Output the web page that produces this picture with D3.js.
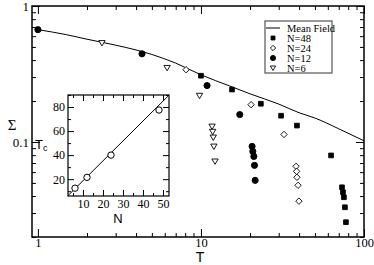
<!DOCTYPE html>
<html>
<head>
<meta charset="utf-8">
<script src="https://cdn.jsdelivr.net/npm/d3@7"></script>
<style>
  body { margin: 0; background: #fff; }
  svg { display: block; }
  .axis path { display: none; }
  .axis line { stroke: #000; stroke-width: 1; }
</style>
</head>
<body>
<svg id="chart" width="374" height="265"></svg>
<script>
// mean field curve
const meanT = [1, 1.5, 2, 3, 4, 5, 7, 10, 15, 20, 30, 40, 50, 70, 100];
const meanS = [0.67, 0.615, 0.57, 0.515, 0.475, 0.44, 0.38, 0.312, 0.258, 0.226, 0.19, 0.164, 0.15, 0.125, 0.102];

// simulation points
const n48T = [10, 15.5, 23.3, 31, 38.8, 62.8, 73.3, 74.3, 75.3, 76.4, 77.5];
const n48S = [0.307, 0.243, 0.191, 0.156, 0.132, 0.0796, 0.0464, 0.0427, 0.0392, 0.0331, 0.0257];
const n24T = [8.1, 20.3, 32.3, 38.3, 38.6, 38.8, 39.4, 39.9];
const n24S = [0.34, 0.188, 0.1135, 0.0662, 0.0608, 0.055, 0.048, 0.0367];
const n12T = [1, 4.35, 10.9, 17.3, 20.6, 20.8, 21.1, 21.3, 21.5];
const n12S = [0.67, 0.445, 0.26, 0.159, 0.0927, 0.0852, 0.0783, 0.0673, 0.0522];
const n6T = [2.47, 6.2, 9.8, 11.7, 11.8, 11.9, 12.0, 12.2];
const n6S = [0.535, 0.351, 0.219, 0.130, 0.119, 0.108, 0.0927, 0.072];

// inset: Tc vs N
const insetN = [6, 12, 24, 48];
const insetTc = [12.5, 21.5, 40, 77.5];
const fitN = [2, 54];
const fitTc = [5.5, 91.5];

const legendLabels = ['Mean Field', 'N=48', 'N=24', 'N=12', 'N=6'];

const SERIF = '"Times New Roman", "Liberation Serif", "Nimbus Roman", "DejaVu Serif", serif';
const SANS = '"Liberation Sans", Arial, sans-serif';

const svg = d3.select('#chart');

const x = d3.scaleLog().domain([0.92, 100]).range([32, 364]);
const y = d3.scaleLog().domain([0.02, 1]).range([237, 6]);

const majorX = [1, 10, 100];
const minorX = [2, 3, 4, 5, 6, 7, 8, 9, 20, 30, 40, 50, 60, 70, 80, 90];
const majorY = [0.1, 1];
const minorY = [0.02, 0.03, 0.04, 0.05, 0.06, 0.07, 0.08, 0.09, 0.2, 0.3, 0.4, 0.5, 0.6, 0.7, 0.8, 0.9];

function ticks(g, axis) {
  g.attr('class', 'axis').call(axis);
  g.attr('font-family', SERIF);
  g.selectAll('text').attr('font-family', SERIF).attr('fill', '#000');
}

// main axes, ticks pointing inward on all sides
svg.append('g').attr('transform', 'translate(0,237)')
  .call(ticks, d3.axisBottom(x).tickValues(majorX).tickSize(-8).tickPadding(1).tickFormat(d3.format('')))
  .selectAll('text').attr('font-size', 12.5);
svg.append('g').attr('transform', 'translate(0,237)')
  .call(ticks, d3.axisBottom(x).tickValues(minorX).tickSize(-4).tickFormat(''));
svg.append('g').attr('transform', 'translate(0,6)')
  .call(ticks, d3.axisTop(x).tickValues(majorX).tickSize(-8).tickFormat(''));
svg.append('g').attr('transform', 'translate(0,6)')
  .call(ticks, d3.axisTop(x).tickValues(minorX).tickSize(-4).tickFormat(''));
svg.append('g').attr('transform', 'translate(32,0)')
  .call(ticks, d3.axisLeft(y).tickValues(majorY).tickSize(-8).tickPadding(3).tickFormat(d3.format('')))
  .selectAll('text').attr('font-size', 13);
svg.append('g').attr('transform', 'translate(32,0)')
  .call(ticks, d3.axisLeft(y).tickValues(minorY).tickSize(-4).tickFormat(''));
svg.append('g').attr('transform', 'translate(364,0)')
  .call(ticks, d3.axisRight(y).tickValues(majorY).tickSize(-8).tickFormat(''));
svg.append('g').attr('transform', 'translate(364,0)')
  .call(ticks, d3.axisRight(y).tickValues(minorY).tickSize(-4).tickFormat(''));

svg.append('rect')
  .attr('x', 32).attr('y', 6).attr('width', 332).attr('height', 231)
  .attr('fill', 'none').attr('stroke', '#000').attr('stroke-width', 1.5);

svg.append('text').attr('x', 200).attr('y', 261.5).attr('text-anchor', 'middle')
  .attr('font-family', SANS).attr('font-size', 14).text('T');
svg.append('text').attr('x', 12).attr('y', 130).attr('text-anchor', 'middle')
  .attr('font-family', SERIF).attr('font-size', 15).text('Σ');

// mean field line
const meanData = meanT.map((t, i) => [t, meanS[i]]);
svg.append('path')
  .attr('d', d3.line().x(d => x(d[0])).y(d => y(d[1])).curve(d3.curveMonotoneX)(meanData))
  .attr('fill', 'none').attr('stroke', '#000').attr('stroke-width', 1);

const downTriangle = { draw(ctx, size) {
  const r = Math.sqrt(size) * 0.62;
  ctx.moveTo(-r, -r * 0.75); ctx.lineTo(r, -r * 0.75); ctx.lineTo(0, r * 0.95); ctx.closePath();
} };

const series = [
  { T: n48T, S: n48S, type: d3.symbolSquare, size: 22, fill: '#000' },
  { T: n24T, S: n24S, type: d3.symbolDiamond2, size: 26, fill: '#fff' },
  { T: n12T, S: n12S, type: d3.symbolCircle, size: 30, fill: '#000' },
  { T: n6T, S: n6S, type: downTriangle, size: 26, fill: '#fff' }
];

series.forEach(s => {
  const sym = d3.symbol().type(s.type).size(s.size);
  svg.append('g').selectAll('path')
    .data(s.T.map((t, i) => [t, s.S[i]]))
    .join('path')
    .attr('d', sym)
    .attr('transform', d => `translate(${x(d[0])},${y(d[1])})`)
    .attr('fill', s.fill).attr('stroke', '#000').attr('stroke-width', 0.9);
});

// legend
const lg = svg.append('g');
lg.append('rect').attr('x', 265).attr('y', 21).attr('width', 67).attr('height', 52)
  .attr('fill', '#fff').attr('stroke', '#555').attr('stroke-width', 1.2);
legendLabels.forEach((label, i) => {
  const ly = 28 + i * 10;
  if (i === 0) {
    lg.append('line').attr('x1', 266).attr('x2', 280).attr('y1', ly).attr('y2', ly)
      .attr('stroke', '#000').attr('stroke-width', 1);
  } else {
    const s = series[i - 1];
    lg.append('path').attr('d', d3.symbol().type(s.type).size(s.size * 0.7))
      .attr('transform', `translate(273,${ly})`)
      .attr('fill', s.fill).attr('stroke', '#000').attr('stroke-width', 0.9);
  }
  lg.append('text').attr('x', 287).attr('y', ly + 3.5)
    .attr('font-family', SERIF).attr('font-size', 10.5).text(label);
});

// inset
const ix = d3.scaleLinear().domain([2.5, 53]).range([68, 169]);
const iy = d3.scaleLinear().domain([6, 90]).range([196, 95]);
const inset = svg.append('g');
inset.append('rect').attr('x', 68).attr('y', 95).attr('width', 101).attr('height', 101)
  .attr('fill', '#fff');

inset.append('g').attr('transform', 'translate(0,196)')
  .call(ticks, d3.axisBottom(ix).tickValues([10, 20, 30, 40, 50]).tickSize(-6).tickPadding(3))
  .selectAll('text').attr('font-size', 12);
inset.append('g').attr('transform', 'translate(0,196)')
  .call(ticks, d3.axisBottom(ix).tickValues([5, 15, 25, 35, 45]).tickSize(-3).tickFormat(''));
inset.append('g').attr('transform', 'translate(0,95)')
  .call(ticks, d3.axisTop(ix).tickValues([10, 20, 30, 40, 50]).tickSize(-6).tickFormat(''));
inset.append('g').attr('transform', 'translate(0,95)')
  .call(ticks, d3.axisTop(ix).tickValues([5, 15, 25, 35, 45]).tickSize(-3).tickFormat(''));
inset.append('g').attr('transform', 'translate(68,0)')
  .call(ticks, d3.axisLeft(iy).tickValues([20, 40, 60, 80]).tickSize(-6).tickPadding(3))
  .selectAll('text').attr('font-size', 12);
inset.append('g').attr('transform', 'translate(68,0)')
  .call(ticks, d3.axisLeft(iy).tickValues([10, 30, 50, 70, 90]).tickSize(-3).tickFormat(''));
inset.append('g').attr('transform', 'translate(169,0)')
  .call(ticks, d3.axisRight(iy).tickValues([20, 40, 60, 80]).tickSize(-6).tickFormat(''));
inset.append('g').attr('transform', 'translate(169,0)')
  .call(ticks, d3.axisRight(iy).tickValues([10, 30, 50, 70, 90]).tickSize(-3).tickFormat(''));

svg.append('clipPath').attr('id', 'insetClip')
  .append('rect').attr('x', 68).attr('y', 95).attr('width', 101).attr('height', 101);
inset.append('path')
  .attr('clip-path', 'url(#insetClip)')
  .attr('d', d3.line().x(d => ix(d[0])).y(d => iy(d[1]))(fitN.map((n, i) => [n, fitTc[i]])))
  .attr('fill', 'none').attr('stroke', '#000').attr('stroke-width', 1);
inset.append('g').selectAll('circle')
  .data(insetN.map((n, i) => [n, insetTc[i]]))
  .join('circle')
  .attr('cx', d => ix(d[0])).attr('cy', d => iy(d[1])).attr('r', 3.2)
  .attr('fill', '#fff').attr('stroke', '#000').attr('stroke-width', 1);

inset.append('rect').attr('x', 68).attr('y', 95).attr('width', 101).attr('height', 101)
  .attr('fill', 'none').attr('stroke', '#000').attr('stroke-width', 1.2);

inset.append('text').attr('x', 118).attr('y', 223).attr('text-anchor', 'middle')
  .attr('font-family', SANS).attr('font-size', 13).text('N');
const tc = inset.append('text').attr('x', 35).attr('y', 149)
  .attr('font-family', SANS).attr('font-size', 13);
tc.append('tspan').text('T');
tc.append('tspan').attr('font-size', 9).attr('dy', 2).text('c');
</script>
</body>
</html>
